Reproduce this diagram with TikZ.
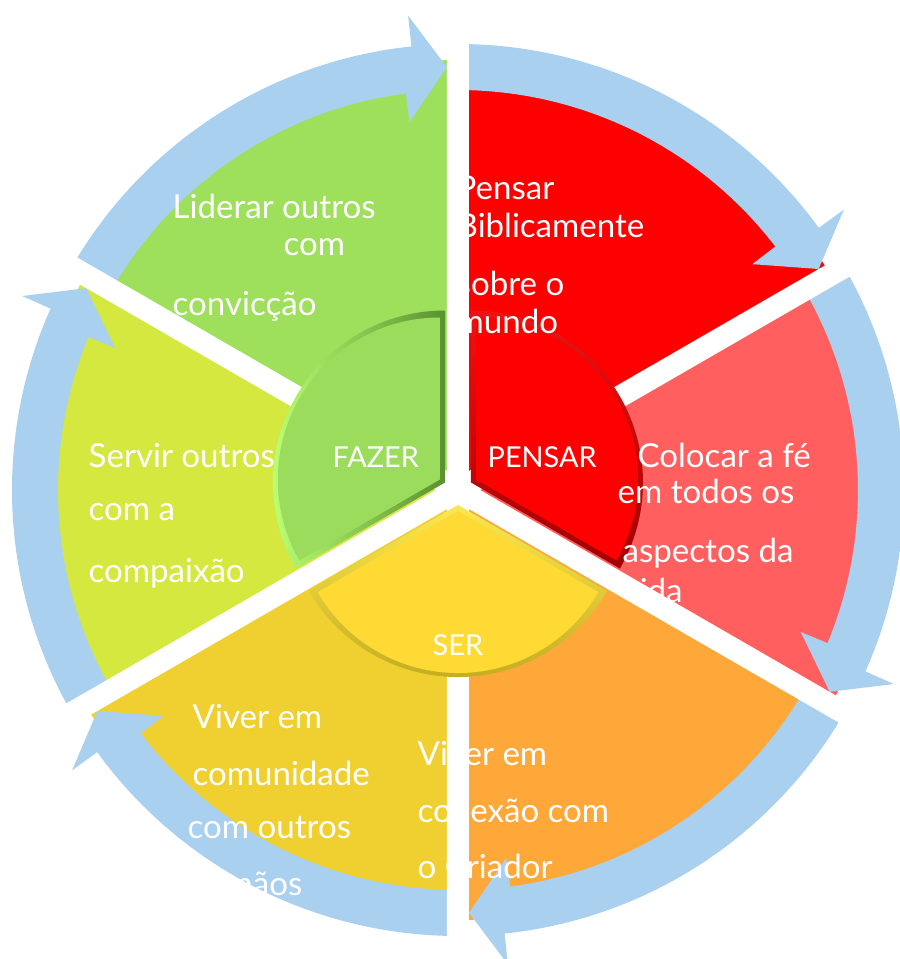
\documentclass[tikz,border=0pt]{standalone}
\usepackage{fontspec}
\newfontfamily\latofont{Lato}
\usetikzlibrary{calc}

\definecolor{bandblue}{RGB}{169,208,238}
\definecolor{leadgreen}{RGB}{158,223,92}
\definecolor{thinkred}{RGB}{255,0,0}
\definecolor{faithred}{RGB}{255,95,95}
\definecolor{bondorange}{RGB}{255,168,58}
\definecolor{commyellow}{RGB}{240,208,48}
\definecolor{servelime}{RGB}{212,232,64}
\definecolor{dogreen}{RGB}{155,220,92}
\definecolor{dolite}{RGB}{185,255,115}
\definecolor{dodark}{RGB}{90,145,48}
\definecolor{thinklite}{RGB}{235,20,20}
\definecolor{thinkdark}{RGB}{160,0,0}
\definecolor{beyellow}{RGB}{255,218,52}
\definecolor{belite}{RGB}{250,232,80}
\definecolor{bedark}{RGB}{190,165,25}

\def\sector[#1](#2){\fill[#1] (0,0) -- (#2:430) arc[start angle=#2, end angle=#2+60, radius=430] -- cycle;}
\def\ringarrow[#1](#2){\fill[#1] (#2+60:446) arc[start angle=#2+60, end angle=#2+6, radius=446] -- (#2+6:477) -- (#2+1.5:423) -- (#2+7.5:371) -- (#2+7.5:400) arc[start angle=#2+7.5, end angle=#2+60, radius=400] -- cycle;}

\tikzset{
	ringtext/.style={text=white, font=\latofont\fontsize{9.4}{11}\selectfont, anchor=base west, inner sep=0pt},
	hubtext/.style={text=white, font=\latofont\fontsize{8.2}{10}\selectfont, anchor=base west, inner sep=0pt}
}

\begin{document}
\begin{tikzpicture}[x=0.01cm, y=0.01cm]
		%%%%% START %%%%%
		\useasboundingbox (-458,-469) rectangle (442,490);
		
		\sector[leadgreen](90)
		\sector[thinkred](30)
		\sector[faithred](-30)
		\sector[bondorange](-90)
		\sector[commyellow](210)
		\sector[servelime](150)
		
		\ringarrow[bandblue](90)
		\ringarrow[bandblue](30)
		\ringarrow[bandblue](-30)
		\ringarrow[bandblue](-90)
		\ringarrow[bandblue](210)
		\ringarrow[bandblue](150)
		
		\draw[white, line width=0.22cm] (90:500) -- (0,0) -- (30:500);
		\draw[white, line width=0.22cm] (-30:500) -- (0,0) -- (-90:500);
		\draw[white, line width=0.22cm] (210:500) -- (0,0) -- (150:500);
		
		% FAZER
		\shade[left color=dolite, right color=dodark, shift={(150:15)}] (0,0) -- (90:172) arc[start angle=90, end angle=210, radius=172] -- cycle;
		\fill[dogreen, shift={(150:21)}] (0,0) -- (90:162) arc[start angle=90, end angle=210, radius=162] -- cycle;
		
		% PENSAR
		\shade[top color=thinklite, bottom color=thinkdark, shift={(30:15)}] (0,0) -- (90:172) arc[start angle=90, end angle=-30, radius=172] -- cycle;
		\fill[thinkred, shift={(30:21)}] (0,0) -- (90:162) arc[start angle=90, end angle=-30, radius=162] -- cycle;
		
		% SER
		\shade[top color=belite, bottom color=bedark, shift={(270:15)}] (0,0) -- (210:172) arc[start angle=210, end angle=330, radius=172] -- cycle;
		\fill[beyellow, shift={(270:21)}] (0,0) -- (210:162) arc[start angle=210, end angle=330, radius=162] -- cycle;
		
		\node[ringtext] (lead1) at (-286,272) {Liderar outros};
		\node[ringtext] (lead2) at (-175,235) {com};
		\node[ringtext] (lead3) at (-286,175) {convicção};
		
		\node[ringtext] (think1) at (-2,291) {Pensar};
		\node[ringtext] (think2) at (-2,253) {Biblicamente};
		\node[ringtext] (think3) at (-2,195) {sobre o};
		\node[ringtext] (think4) at (-2,157) {mundo};
		
		\node[ringtext] (faith1) at (179,23) {Colocar a fé};
		\node[ringtext] (faith2) at (159,-13) {em todos os};
		\node[ringtext] (faith3) at (164,-72) {aspectos da};
		\node[ringtext] (faith4) at (164,-112) {vida};
		
		\node[ringtext] (bond1) at (-41,-275) {Viver em};
		\node[ringtext] (bond2) at (-41,-332) {conexão com};
		\node[ringtext] (bond3) at (-41,-388) {o Criador};
		
		\node[ringtext] (comm1) at (-266,-238) {Viver em};
		\node[ringtext] (comm2) at (-266,-295) {comunidade};
		\node[ringtext] (comm3) at (-271,-348) {com outros};
		\node[ringtext] (comm4) at (-253,-405) {irmãos};
		
		\node[ringtext] (serve1) at (-370,23) {Servir outros};
		\node[ringtext] (serve2) at (-370,-30) {com a};
		\node[ringtext] (serve3) at (-370,-92) {compaixão};
		
		\node[hubtext] (hubdo) at (-126,23) {FAZER};
		\node[hubtext] (hubthink) at (29,23) {PENSAR};
		\node[hubtext] (hubbe) at (-26,-165) {SER};
		%%%%% END %%%%%
\end{tikzpicture}
\end{document}
